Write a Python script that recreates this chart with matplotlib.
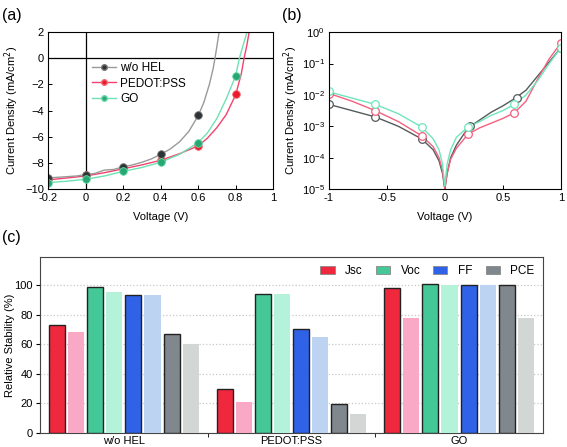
import matplotlib
matplotlib.use("Agg")
import matplotlib.pyplot as plt
import numpy as np
from matplotlib.patches import Patch

plt.rcParams['font.family'] = ['Liberation Sans', 'DejaVu Sans']
plt.rcParams['font.size'] = 8

# ---------------- data: (a) J-V curves ----------------
v_gray = [-0.2, -0.15, -0.1, -0.05, 0, 0.05, 0.1, 0.15, 0.2, 0.25, 0.3, 0.35, 0.4, 0.45,
          0.5, 0.55, 0.6, 0.63, 0.66, 0.68, 0.69, 0.70, 0.712]
j_gray = [-9.15, -9.1, -9.05, -9.0, -8.9, -8.8, -8.55, -8.5, -8.3, -8.15, -7.95, -7.7, -7.35, -6.95,
          -6.4, -5.6, -4.4, -3.4, -2.0, -0.8, 0.0, 0.9, 2.0]
v_red = [-0.2, -0.1, 0, 0.1, 0.2, 0.3, 0.4, 0.5, 0.6, 0.65, 0.7, 0.75, 0.8, 0.83, 0.845, 0.86, 0.872]
j_red = [-9.3, -9.15, -9.0, -8.75, -8.45, -8.15, -7.8, -7.3, -6.7, -6.1, -5.3, -4.3, -2.8, -1.2, 0.0, 1.0, 2.0]
v_green = [-0.2, -0.1, 0, 0.1, 0.2, 0.3, 0.4, 0.5, 0.6, 0.65, 0.7, 0.75, 0.8, 0.82, 0.84, 0.861]
j_green = [-9.5, -9.4, -9.25, -9.0, -8.65, -8.35, -7.95, -7.35, -6.45, -5.7, -4.6, -3.1, -1.35, 0.0, 1.0, 2.0]

mv_gray = [-0.2, 0, 0.2, 0.4, 0.6]
mj_gray = [-9.15, -8.9, -8.3, -7.3, -4.3]
mv_red = [-0.2, 0, 0.2, 0.4, 0.6, 0.8]
mj_red = [-9.25, -8.95, -8.4, -7.8, -6.7, -2.75]
mv_green = [-0.2, 0, 0.2, 0.4, 0.6, 0.8]
mj_green = [-9.5, -9.25, -8.65, -7.95, -6.45, -1.35]

# ---------------- data: (b) dark J-V (log10 of |J|) ----------------
vb = [-1, -0.8, -0.6, -0.4, -0.2, -0.1, -0.05, -0.02, 0, 0.02, 0.05, 0.1, 0.2, 0.3, 0.4, 0.5,
      0.6, 0.7, 0.8, 0.9, 1]
lg_gray = [-2.3, -2.5, -2.7, -3.0, -3.4, -3.75, -4.1, -4.5, -5.0, -4.5, -4.0, -3.6, -3.05, -2.8,
           -2.55, -2.35, -2.12, -1.85, -1.4, -0.95, -0.5]
lg_red = [-1.95, -2.2, -2.5, -2.85, -3.3, -3.65, -4.0, -4.4, -5.0, -4.5, -4.05, -3.7, -3.25, -3.05,
          -2.9, -2.75, -2.57, -2.2, -1.5, -0.85, -0.35]
lg_green = [-1.9, -2.1, -2.3, -2.6, -3.02, -3.4, -3.75, -4.2, -4.9, -4.2, -3.75, -3.35, -3.02, -2.85,
            -2.65, -2.5, -2.3, -2.0, -1.55, -1.0, -0.5]
mvb = [-1, -0.6, -0.2, 0.2, 0.6, 1]
mvb_gray = [-1, -0.6, -0.2, 0.22, 0.62, 1]
mb_gray = [-2.3, -2.7, -3.4, -3.0, -2.1, -0.5]
mb_red = [-1.96, -2.52, -3.3, -3.26, -2.57, -0.35]
mb_green = [-1.89, -2.3, -3.02, -3.02, -2.3, -0.5]

# ---------------- data: (c) relative stability ----------------
groups = ['w/o HEL', 'PEDOT:PSS', 'GO']
params = ['Jsc', 'Voc', 'FF', 'PCE']
dark_vals = {'Jsc': [73, 29.5, 98], 'Voc': [98.5, 94, 100.5], 'FF': [93, 70.5, 100], 'PCE': [67, 19.5, 100]}
light_vals = {'Jsc': [68, 21, 78], 'Voc': [95, 94, 100], 'FF': [93, 65, 100], 'PCE': [60, 13, 78]}
dark_cols = {'Jsc': '#f0283e', 'Voc': '#45c898', 'FF': '#2f62e6', 'PCE': '#80878d'}
light_cols = {'Jsc': '#f9a9c6', 'Voc': '#b4f2da', 'FF': '#bcd3f2', 'PCE': '#d2d6d5'}

fig = plt.figure(figsize=(5.67, 4.47), dpi=100)

# ---------------- panel (a) ----------------
ax1 = fig.add_axes([0.0847, 0.577, 0.397, 0.351])
ax1.axhline(0, color='black', lw=0.9)
ax1.axvline(0, color='black', lw=0.9)
ax1.plot(v_red, j_red, color='#f4426c', lw=1.0)
ax1.plot(v_gray, j_gray, color='#9a9a9a', lw=1.0)
ax1.plot(v_green, j_green, color='#6de3b4', lw=1.0)
ax1.plot(mv_red, mj_red, 'o', color='#ea1c2c', ms=5.5, mec='#f06a70', mew=0.6)
ax1.plot(mv_gray, mj_gray, 'o', color='#2e3436', ms=5.5, mec='#777', mew=0.6)
ax1.plot(mv_green, mj_green, 'o', color='#27a873', ms=5.5, mec='#6cd8a8', mew=0.6)
h1, = ax1.plot([], [], '-o', color='#9a9a9a', mfc='#2e3436', mec='#777', ms=4, lw=1.0)
h2, = ax1.plot([], [], '-o', color='#f4426c', mfc='#ea1c2c', mec='#f06a70', ms=4, lw=1.0)
h3, = ax1.plot([], [], '-o', color='#6de3b4', mfc='#27a873', mec='#6cd8a8', ms=4, lw=1.0)
ax1.legend([h1, h2, h3], ['w/o HEL', 'PEDOT:PSS', 'GO'], loc='upper left',
           bbox_to_anchor=(0.195, 0.81), frameon=False, handlelength=2.0, handletextpad=0.4,
           labelspacing=0.3, fontsize=8.5, borderaxespad=0, borderpad=0)
ax1.set_xlim(-0.2, 1)
ax1.set_ylim(-10, 2)
ax1.set_xticks([-0.2, 0, 0.2, 0.4, 0.6, 0.8, 1])
ax1.set_xticklabels(['-0.2', '0', '0.2', '0.4', '0.6', '0.8', '1'])
ax1.set_yticks([-10, -8, -6, -4, -2, 0, 2])
ax1.tick_params(direction='in', length=3, width=0.7, pad=3)
ax1.set_xlabel('Voltage (V)', labelpad=6)
ax1.set_ylabel('Current Density (mA/cm$^2$)')
ax1.yaxis.set_label_coords(-0.122, 0.5)

# ---------------- panel (b) ----------------
ax2 = fig.add_axes([0.580, 0.577, 0.409, 0.351])
ax2.plot(vb, 10 ** np.array(lg_gray), color='#555a5c', lw=1.0)
ax2.plot(vb, 10 ** np.array(lg_red), color='#f4607e', lw=1.0)
ax2.plot(vb, 10 ** np.array(lg_green), color='#6ee6bb', lw=1.0)
ax2.plot(mvb_gray, 10 ** np.array(mb_gray), 'o', mfc='white', mec='#555a5c', ms=5.5, mew=0.9)
ax2.plot(mvb, 10 ** np.array(mb_red), 'o', mfc='white', mec='#f4607e', ms=5.5, mew=0.9)
ax2.plot(mvb, 10 ** np.array(mb_green), 'o', mfc='white', mec='#6ee6bb', ms=5.5, mew=0.9)
ax2.set_yscale('log')
ax2.set_xlim(-1, 1)
ax2.set_ylim(1e-5, 1)
ax2.set_xticks([-1, -0.5, 0, 0.5, 1])
ax2.set_xticklabels(['-1', '-0.5', '0', '0.5', '1'])
ax2.minorticks_off()
ax2.tick_params(direction='in', length=3, width=0.7, pad=3)
ax2.set_xlabel('Voltage (V)', labelpad=6)
ax2.set_ylabel('Current Density (mA/cm$^2$)')
ax2.yaxis.set_label_coords(-0.125, 0.5)

# ---------------- panel (c) ----------------
ax3 = fig.add_axes([0.0705, 0.0313, 0.887, 0.394])
x = np.arange(len(groups))
pitch = 0.114
bw = 0.096
k = 0
for p in params:
    ax3.bar(x + (k - 3.5) * pitch, dark_vals[p], bw, color=dark_cols[p], edgecolor='#222',
            linewidth=1.0, zorder=3)
    k += 1
    ax3.bar(x + (k - 3.5) * pitch, light_vals[p], bw, color=light_cols[p], linewidth=0, zorder=3)
    k += 1
ax3.set_xlim(-0.5, 2.5)
ax3.set_ylim(0, 119)
ax3.set_xticks(x)
ax3.set_xticklabels(groups)
ax3.set_xticks([0.5, 1.5], minor=True)
ax3.tick_params(axis='x', which='major', length=0, pad=2)
ax3.tick_params(axis='x', which='minor', length=3, direction='out')
ax3.set_yticks([0, 20, 40, 60, 80, 100])
ax3.tick_params(axis='y', length=3, direction='out', pad=2)
ax3.yaxis.grid(True, linestyle=':', color='#c8c8c8', lw=0.9, zorder=0)
for s in ax3.spines.values():
    s.set_color('#444')
ax3.set_ylabel('Relative Stability (%)')
ax3.yaxis.set_label_coords(-0.05, 0.5)
handles = [Patch(facecolor=dark_cols[p], edgecolor='#888', lw=0.6) for p in params]
ax3.legend(handles, params, loc='upper right', ncol=4, frameon=False, fontsize=8.5,
           handlelength=1.2, handleheight=0.7, handletextpad=0.9, columnspacing=1.1,
           bbox_to_anchor=(1.0, 1.0), borderaxespad=0.3)

fig.text(0.004, 0.965, '(a)', fontsize=11.5, va='center')
fig.text(0.498, 0.965, '(b)', fontsize=11.5, va='center')
fig.text(0.004, 0.468, '(c)', fontsize=11.5, va='center')

fig.savefig('out.png', dpi=100)
